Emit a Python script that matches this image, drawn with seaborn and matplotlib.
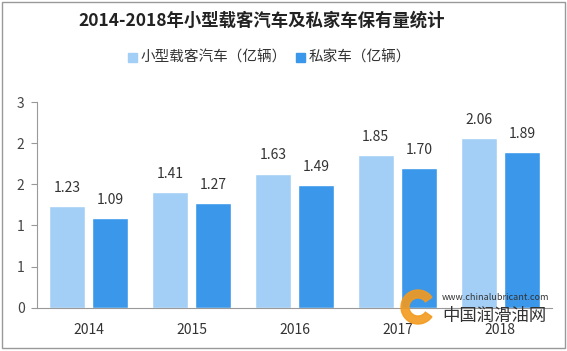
import matplotlib
matplotlib.use("Agg")
from matplotlib import pyplot as plt
from matplotlib.patches import Wedge, Rectangle
import seaborn as sns
import pandas as pd
import numpy as np

years = ['2014', '2015', '2016', '2017', '2018']
small_cars = [1.23, 1.41, 1.63, 1.85, 2.06]
private_cars = [1.09, 1.27, 1.49, 1.70, 1.89]
series = ['小型载客汽车（亿辆）', '私家车（亿辆）']
y_ticks = [0, 0.5, 1.0, 1.5, 2.0, 2.5]
y_labels = ['0', '1', '1', '2', '2', '3']

sns.set_style("white")
plt.rcParams['font.family'] = ['Noto Sans CJK SC', 'DejaVu Sans']

df = pd.DataFrame({
    'year': years * 2,
    'value': small_cars + private_cars,
    'kind': [series[0]] * 5 + [series[1]] * 5,
})

fig = plt.figure(figsize=(5.67, 3.51), dpi=100)
ax = fig.add_axes([0.0653, 0.1234, 0.908, 0.586])

palette = {series[0]: '#a3cff6', series[1]: '#3a97ea'}
sns.barplot(data=df, x='year', y='value', hue='kind', palette=palette,
            width=0.84, gap=0.17, ax=ax, saturation=1, legend=False)

for cont in ax.containers:
    for bar in cont:
        h = bar.get_height()
        ax.annotate(f'{h:.2f}', (bar.get_x() + bar.get_width() / 2, h),
                    xytext=(0, 8), textcoords='offset points',
                    ha='center', va='bottom', fontsize=10, color='#333333')

ax.set_xlim(-0.5, 4.5)
ax.set_ylim(0, 2.5)
ax.set_yticks(y_ticks)
ax.set_yticklabels(y_labels)
ax.set_xlabel('')
ax.set_ylabel('')
ax.set_xticks(np.arange(-0.5, 5, 1), minor=True)
ax.tick_params(axis='x', which='major', length=0, pad=11, labelsize=10, labelcolor='#333333')
ax.tick_params(axis='x', which='minor', length=5, width=0.8, color='#999999', direction='out')
ax.tick_params(axis='y', length=4, width=0.8, color='#999999', pad=5, labelsize=10,
               labelcolor='#444444', left=True)
for s in ['top', 'right']:
    ax.spines[s].set_visible(False)
for s in ['left', 'bottom']:
    ax.spines[s].set_color('#999999')
    ax.spines[s].set_linewidth(0.8)

fig.text(0.462, 0.94, '2014-2018年小型载客汽车及私家车保有量统计', ha='center', va='center',
         fontsize=12.5, fontweight='bold', color='#222222')

# legend
fig.patches.append(Rectangle((128 / 567, 1 - 62 / 351), 9 / 567, 9 / 351,
                             transform=fig.transFigure, color=palette[series[0]]))
fig.text(141 / 567, 1 - 57 / 351, series[0], va='center', fontsize=10.5, color='#333333')
fig.patches.append(Rectangle((296 / 567, 1 - 62 / 351), 9 / 567, 9 / 351,
                             transform=fig.transFigure, color=palette[series[1]]))
fig.text(309 / 567, 1 - 57 / 351, series[1], va='center', fontsize=10.5, color='#333333')

# corner watermark (logo drawn in inches so it stays round)
fig.patches.append(Wedge((4.18, (351 - 307) / 100), 0.17, 35, 325, width=0.08,
                         transform=fig.dpi_scale_trans, color='#f39a1e', alpha=0.9))
fig.text(442 / 567, 1 - 298 / 351, 'www.chinalubricant.com', fontsize=6.5,
         va='center', color='#333333')
fig.text(442 / 567, 1 - 316 / 351, '中国润滑油网', fontsize=12.5, va='center', color='#333333')

# outer border
fig.patches.append(Rectangle((0.004, 0.008), 0.992, 0.985, transform=fig.transFigure,
                             fill=False, edgecolor='#999999', linewidth=1))

fig.savefig('out.png', dpi=100)
